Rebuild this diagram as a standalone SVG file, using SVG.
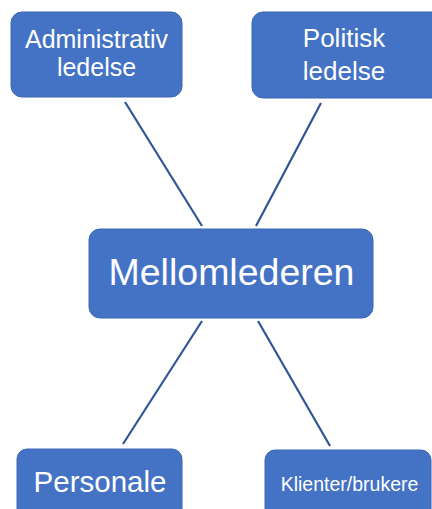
<svg xmlns="http://www.w3.org/2000/svg" width="432" height="509" viewBox="0 0 432 509">
<style>
.box{fill:#4472C4;stroke:#3A66B5;stroke-width:1}
.t{fill:#fff;font-family:"Liberation Sans",Arial,sans-serif;text-anchor:middle}
.c{stroke:#2F5597;stroke-width:2.2;fill:none}
</style>
<rect width="432" height="509" fill="#fff"/>
<g id="connectors">
<line class="c" x1="125" y1="102" x2="202" y2="226"/>
<line class="c" x1="321" y1="103" x2="256" y2="226"/>
<line class="c" x1="202" y1="321" x2="123" y2="444"/>
<line class="c" x1="258" y1="321" x2="330" y2="446"/>
</g>
<g id="admin">
<rect class="box" x="11" y="12" width="171" height="85" rx="11"/>
<text class="t" x="96.5" y="48" font-size="25">Administrativ</text>
<text class="t" x="96.5" y="76" font-size="25">ledelse</text>
</g>
<g id="politisk">
<rect class="box" x="252" y="12" width="190" height="86" rx="11"/>
<text class="t" x="344" y="47" font-size="26">Politisk</text>
<text class="t" x="344" y="80" font-size="26">ledelse</text>
</g>
<g id="mellomlederen">
<rect class="box" x="89" y="229" width="284" height="89" rx="11"/>
<text class="t" x="231.5" y="285" font-size="37.5">Mellomlederen</text>
</g>
<g id="personale">
<rect class="box" x="17" y="449" width="165" height="80" rx="10"/>
<text class="t" x="100" y="492" font-size="29.5">Personale</text>
</g>
<g id="klienter">
<rect class="box" x="265" y="450" width="166" height="80" rx="10"/>
<text class="t" x="349.5" y="491" font-size="19.5">Klienter/brukere</text>
</g>
</svg>
